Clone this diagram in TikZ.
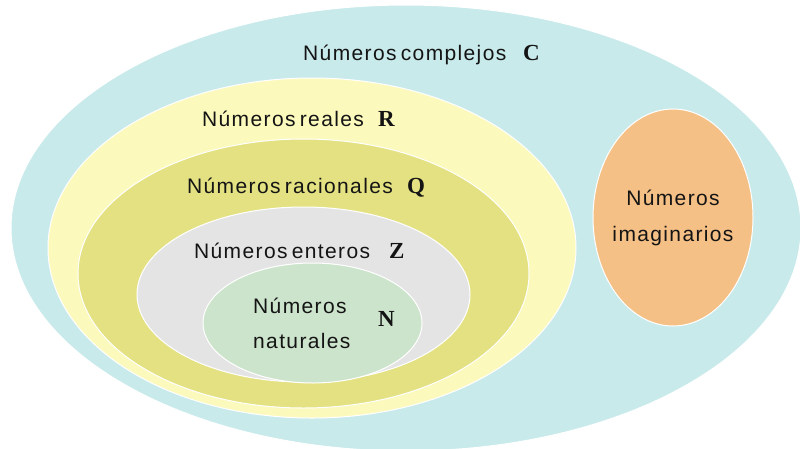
\documentclass[tikz,border=0pt]{standalone}
\usepackage{fontspec}
\setmainfont{Liberation Sans}[LetterSpace=6.5,WordSpace=0.6]
\newfontfamily\setsym{Liberation Serif}
\usetikzlibrary{shapes.geometric}
\definecolor{cC}{HTML}{C9EAEB}
\definecolor{cR}{HTML}{FCF9BD}
\definecolor{cQ}{HTML}{E4E183}
\definecolor{cZ}{HTML}{E4E4E4}
\definecolor{cN}{HTML}{CDE4CC}
\definecolor{cI}{HTML}{F5C086}
\definecolor{ink}{HTML}{141414}
\tikzset{
  setshape/.style={ellipse, draw=white, line width=1pt, inner sep=0pt},
  lbl/.style={anchor=base west, inner sep=0pt, text=ink, font=\fontsize{21}{25}\selectfont},
  sym/.style={anchor=base west, inner sep=0pt, text=ink, font=\fontsize{23}{27}\setsym\bfseries},
  clbl/.style={anchor=base, inner sep=0pt, text=ink, font=\fontsize{21}{25}\selectfont}
}
\begin{document}
\begin{tikzpicture}[x=1pt,y=-1pt]
\useasboundingbox (0,0) rectangle (800,448);
\clip (0,0) rectangle (800,448);
\fill[white] (0,0) rectangle (800,448);
% sets
\node[setshape, fill=cC, minimum width=790pt, minimum height=446pt] (C) at (406,228) {};
\node[setshape, fill=cR, minimum width=528pt, minimum height=340pt] (R) at (312,248) {};
\node[setshape, fill=cQ, minimum width=451pt, minimum height=269pt] (Q) at (303.5,273.5) {};
\node[setshape, fill=cZ, minimum width=333pt, minimum height=175pt] (Z) at (303.5,294.5) {};
\node[setshape, fill=cN, minimum width=219pt, minimum height=120pt] (N) at (312.5,323) {};
\node[setshape, fill=cI, minimum width=160pt, minimum height=217pt] (I) at (673,217.5) {};
% labels
\node[lbl] (tC) at (303,60) {Números complejos};
\node[sym] (sC) at (523,60) {C};
\node[lbl] (tR) at (202,126) {Números reales};
\node[sym] (sR) at (378,126) {R};
\node[lbl] (tQ) at (187,193) {Números racionales};
\node[sym] (sQ) at (407,193) {Q};
\node[lbl] (tZ) at (194,258) {Números enteros};
\node[sym] (sZ) at (389,258) {Z};
\node[lbl] (tN1) at (253,313) {Números};
\node[lbl] (tN2) at (253,348) {naturales};
\node[sym] (sN) at (378,326) {N};
\node[clbl] (tI1) at (673,205) {Números};
\node[clbl] (tI2) at (673,241) {imaginarios};
\end{tikzpicture}
\end{document}
